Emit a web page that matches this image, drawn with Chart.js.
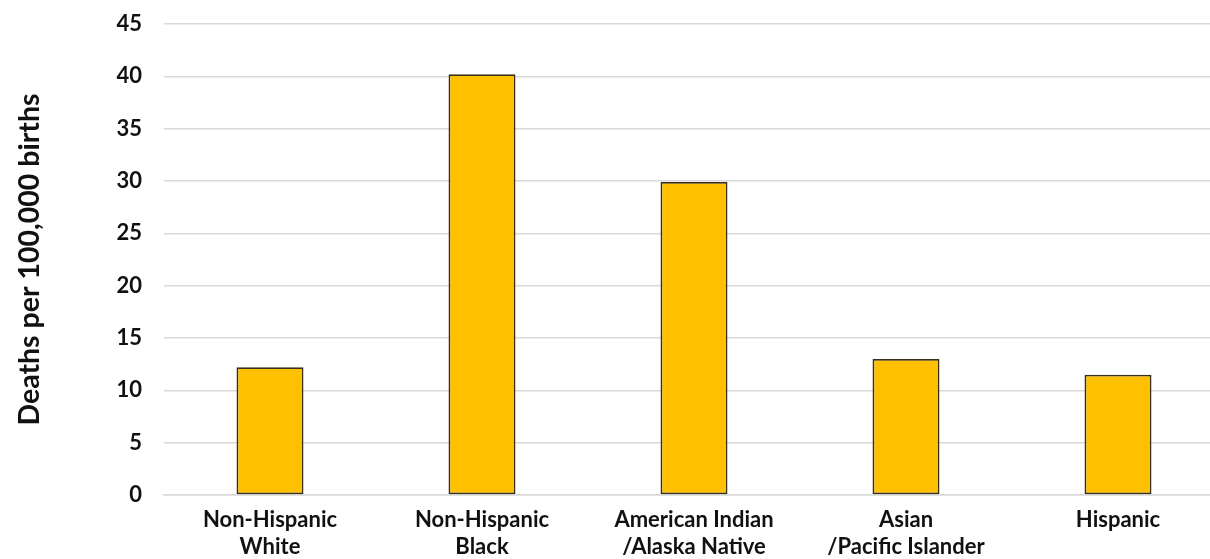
<!DOCTYPE html>
<html>
<head>
<meta charset="utf-8">
<script src="https://cdn.jsdelivr.net/npm/chart.js@4/dist/chart.umd.min.js"></script>
<style>
  html, body { margin: 0; padding: 0; background: #ffffff; overflow: hidden; }
  #wrap { position: relative; width: 1224px; height: 559px; }
</style>
</head>
<body>
<div id="wrap"><canvas id="chart"></canvas></div>
<script>
// Maternal mortality by race / ethnicity
const categories = [
  ["Non-Hispanic", "White"],
  ["Non-Hispanic", "Black"],
  ["American Indian", "/Alaska Native"],
  ["Asian", "/Pacific Islander"],
  ["Hispanic"]
];
const deathsPer100k = [12.2, 40.2, 29.9, 13.0, 11.5];
const yTicks = [0, 5, 10, 15, 20, 25, 30, 35, 40, 45];
const yTitle = "Deaths per 100,000 births";

const FONT = "Lato, 'Open Sans', sans-serif";
const INK = "#111111";

new Chart(document.getElementById("chart"), {
  type: "bar",
  data: {
    labels: categories,
    datasets: [{
      data: deathsPer100k,
      backgroundColor: "#FFC000",
      borderColor: "#382f1a",
      borderWidth: 1.8,
      borderSkipped: false,
      barPercentage: 0.316,
      categoryPercentage: 1.0
    }]
  },
  options: {
    responsive: true,
    maintainAspectRatio: false,
    animation: false,
    layout: { padding: { top: 24, right: 0, bottom: 0, left: 0 } },
    plugins: { legend: { display: false }, tooltip: { enabled: false } },
    scales: {
      x: {
        grid: { display: false, drawTicks: false },
        border: { display: true, color: "#d9d9d9", width: 1.5 },
        ticks: {
          color: INK,
          padding: 12,
          maxRotation: 0,
          autoSkip: false,
          font: { family: FONT, size: 22, weight: "bold", lineHeight: 1.2 }
        },
        afterFit: (s) => { s.height = 64; }
      },
      y: {
        min: 0,
        max: 45,
        afterBuildTicks: (s) => { s.ticks = yTicks.map(v => ({ value: v })); },
        grid: { color: "#d9d9d9", lineWidth: 1.5, drawTicks: false },
        border: { display: false },
        ticks: {
          color: INK,
          padding: 22,
          font: { family: FONT, size: 22, weight: "bold" }
        },
        title: {
          display: true,
          text: yTitle,
          color: INK,
          padding: { top: 13, bottom: 0 },
          font: { family: FONT, size: 28.5, weight: "bold", lineHeight: 1.2 }
        },
        afterFit: (s) => {
          s.width = 164;
          // the tick gap is horizontal only; keep it out of the vertical margins
          s.paddingTop = 0;
          s.paddingBottom = 0;
        }
      }
    }
  }
});
</script>
</body>
</html>
